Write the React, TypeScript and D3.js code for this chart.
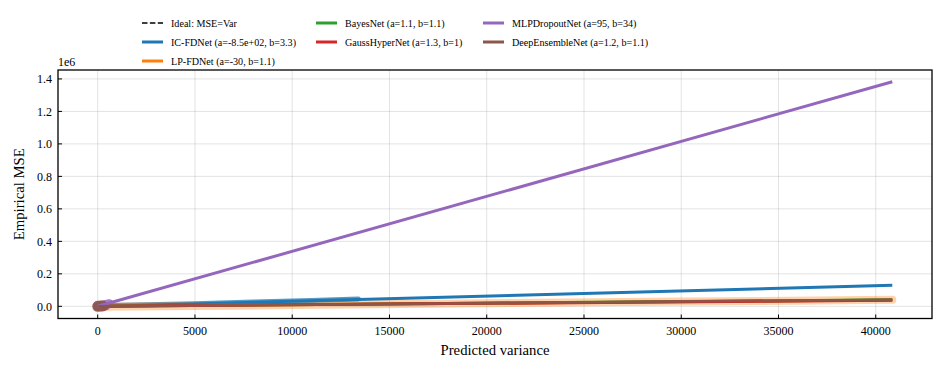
import React from "react";
import { scaleLinear, line } from "d3";

const W = 946;
const H = 372;
const plotLeft = 58;
const plotRight = 932;
const plotTop = 70;
const plotBottom = 318.5;

// axes
const xTicks = [0, 5000, 10000, 15000, 20000, 25000, 30000, 35000, 40000];
const yTicks = [0, 0.2e6, 0.4e6, 0.6e6, 0.8e6, 1.0e6, 1.2e6, 1.4e6];
const yTickLabels = ["0.0", "0.2", "0.4", "0.6", "0.8", "1.0", "1.2", "1.4"];

// legend / series info
const names = ["Ideal: MSE=Var", "IC-FDNet (a=-8.5e+02, b=3.3)", "LP-FDNet (a=-30, b=1.1)", "BayesNet (a=1.1, b=1.1)", "GaussHyperNet (a=1.3, b=1)", "MLPDropoutNet (a=95, b=34)", "DeepEnsembleNet (a=1.2, b=1.1)"];
const colors = ["#000000", "#1f77b4", "#ff7f0e", "#2ca02c", "#d62728", "#9467bd", "#8c564b"];

const icData = [[0, 3000], [2500, 9000], [5000, 16000], [8000, 26000], [11000, 36000], [13400, 45000]];
const lpData = [[0, -3000], [5000, 2000], [10000, 8000], [20000, 19000], [30000, 29000], [40850, 40000]];
const bayesData = [[0, 0], [300, 800]];
const gaussData = [[0, -4000], [400, -1500]];
const mlpData = [[0, 4000], [300, 9000], [600, 16000]];
const deepData = [[0, 0], [250, 1500]];

// fitted lines (endpoints)
const idealFit = [[0, 0], [40850, 40850]];
const icFit = [[0, -850], [40850, 130000]];
const lpFit = [[0, -30], [40850, 39000]];
const bayesFit = [[0, 1], [40850, 40000]];
const gaussFit = [[0, 1], [40850, 38000]];
const mlpFit = [[0, 95], [40850, 1383000]];
const deepFit = [[0, 1], [40850, 40000]];

const x = scaleLinear().domain([-2042, 42892]).range([plotLeft, plotRight]);
const y = scaleLinear().domain([-75000, 1455000]).range([plotBottom, plotTop]);
const path = line<number[]>().x(d => x(d[0])).y(d => y(d[1]));

const font = "'Liberation Serif', 'Times New Roman', serif";

const App = () => {
    const bands = [
        { d: icData, c: colors[1], w: 5, o: 0.75 },
        { d: lpData, c: colors[2], w: 8, o: 0.35 },
        { d: bayesData, c: colors[3], w: 8, o: 0.8 },
        { d: gaussData, c: colors[4], w: 8, o: 0.8 },
        { d: mlpData, c: colors[5], w: 9, o: 0.85 },
        { d: deepData, c: colors[6], w: 11, o: 0.9 },
    ];
    const fits = [
        { d: icFit, c: colors[1] },
        { d: lpFit, c: colors[2] },
        { d: bayesFit, c: colors[3] },
        { d: gaussFit, c: colors[4] },
        { d: mlpFit, c: colors[5] },
        { d: deepFit, c: colors[6] },
    ];
    // legend layout: 3 columns filled column-wise (3, 2, 2 entries)
    const colX = [142, 316, 483];
    const rowY = [23, 42, 61];
    const slots = [[0, 0], [0, 1], [0, 2], [1, 0], [1, 1], [2, 0], [2, 1]];

    return (
        <div style={{ position: "absolute", left: 0, top: 0 }}>
            <svg width={W} height={H} style={{ display: "block", background: "#fff" }} fontFamily={font}>
                <defs>
                    <clipPath id="plotclip">
                        <rect x={plotLeft} y={plotTop} width={plotRight - plotLeft} height={plotBottom - plotTop} />
                    </clipPath>
                </defs>
                {/* grid */}
                {xTicks.map(t => (
                    <line key={"gx" + t} x1={x(t)} x2={x(t)} y1={plotTop} y2={plotBottom} stroke="#b0b0b0" strokeOpacity={0.35} strokeWidth={1} />
                ))}
                {yTicks.map(t => (
                    <line key={"gy" + t} x1={plotLeft} x2={plotRight} y1={y(t)} y2={y(t)} stroke="#b0b0b0" strokeOpacity={0.35} strokeWidth={1} />
                ))}
                <g clipPath="url(#plotclip)">
                    <path d={path(idealFit) || ""} fill="none" stroke="#000" strokeWidth={1.5} strokeDasharray="5.5,2.4" />
                    {bands.map((b, i) => (
                        <path key={"b" + i} d={path(b.d) || ""} fill="none" stroke={b.c} strokeOpacity={b.o} strokeWidth={b.w} strokeLinecap="round" strokeLinejoin="round" />
                    ))}
                    {fits.map((f, i) => (
                        <path key={"f" + i} d={path(f.d) || ""} fill="none" stroke={f.c} strokeWidth={i === 5 ? 2.5 : 3} />
                    ))}
                </g>
                {/* frame */}
                <rect x={plotLeft} y={plotTop} width={plotRight - plotLeft} height={plotBottom - plotTop} fill="none" stroke="#000" strokeWidth={1.3} />
                {/* ticks */}
                {xTicks.map(t => (
                    <g key={"tx" + t}>
                        <line x1={x(t)} x2={x(t)} y1={plotBottom} y2={plotBottom - 4} stroke="#000" strokeWidth={1} />
                        <text x={x(t)} y={plotBottom + 16} fontSize={12} textAnchor="middle">{t}</text>
                    </g>
                ))}
                {yTicks.map((t, i) => (
                    <g key={"ty" + t}>
                        <line x1={plotLeft} x2={plotLeft + 4} y1={y(t)} y2={y(t)} stroke="#000" strokeWidth={1} />
                        <text x={plotLeft - 6} y={y(t)} dy="0.35em" fontSize={12} textAnchor="end">{yTickLabels[i]}</text>
                    </g>
                ))}
                <text x={plotLeft} y={66} fontSize={12}>1e6</text>
                <text x={(plotLeft + plotRight) / 2} y={355} fontSize={14.7} textAnchor="middle">Predicted variance</text>
                <text transform={`translate(24, ${(plotTop + plotBottom) / 2}) rotate(-90)`} fontSize={14.7} textAnchor="middle">Empirical MSE</text>
                {/* legend */}
                {names.map((n, i) => {
                    const lx = colX[slots[i][0]];
                    const ly = rowY[slots[i][1]];
                    return (
                        <g key={"l" + i}>
                            <line x1={lx} x2={lx + 21} y1={ly} y2={ly} stroke={colors[i]} strokeWidth={i === 0 ? 1.5 : 3} strokeDasharray={i === 0 ? "5.5,2.4" : undefined} />
                            <text x={lx + 29} y={ly} dy="0.35em" fontSize={10.1}>{n}</text>
                        </g>
                    );
                })}
            </svg>
        </div>
    );
};

export default App;
